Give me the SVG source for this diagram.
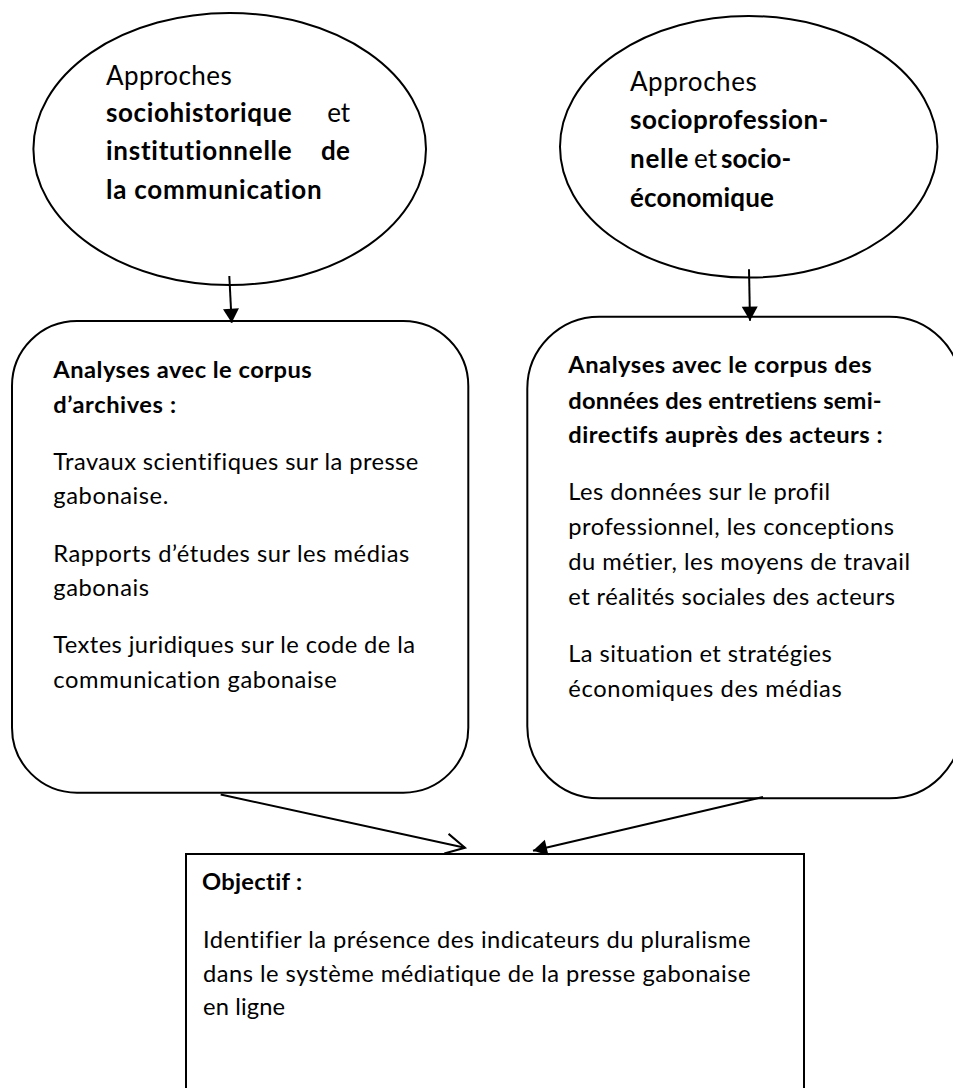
<svg xmlns="http://www.w3.org/2000/svg" width="953" height="1088" viewBox="0 0 953 1088">
<style>
.n{fill:#fff;stroke:#000;stroke-width:2}
text{font-family:Lato,"Open Sans","Liberation Sans",sans-serif;font-size:23.7px;fill:#000;font-variant-ligatures:none;font-feature-settings:"liga" 0,"clig" 0}
.e{font-size:26px}
.b{font-weight:bold}
.c{stroke:#000;stroke-width:2;fill:none}
</style>
<defs>
<marker id="tri" markerUnits="userSpaceOnUse" markerWidth="16" markerHeight="18" refX="14" refY="8" orient="auto" overflow="visible">
<path d="M0,0 L14,8 L0,16 Z" fill="#000"/>
</marker>
<marker id="open" markerUnits="userSpaceOnUse" markerWidth="22" markerHeight="22" refX="19" refY="10" orient="auto" overflow="visible">
<path d="M0,0 L19,10 L0,20" fill="none" stroke="#000" stroke-width="2"/>
</marker>
</defs>
<rect width="953" height="1088" fill="#fff"/>

<g id="ellipse-left">
<ellipse class="n" cx="229.7" cy="149" rx="196.3" ry="136"/>
<text class="e" x="106" y="85" textLength="125.7" lengthAdjust="spacing">Approches</text>
<text class="e b" x="106" y="121.7" textLength="185.7" lengthAdjust="spacing">sociohistorique</text>
<text class="e" x="327.3" y="121.7" textLength="22.7" lengthAdjust="spacing">et</text>
<text class="e b" x="106" y="160" textLength="185.7" lengthAdjust="spacing">institutionnelle</text>
<text class="e b" x="321" y="160" textLength="29" lengthAdjust="spacing">de</text>
<text class="e b" x="106" y="198.5" textLength="215.7" lengthAdjust="spacing">la communication</text>
</g>

<g id="ellipse-right">
<ellipse class="n" cx="748.7" cy="146.8" rx="188.7" ry="130.8"/>
<text class="e" x="630" y="90.7" textLength="126.7" lengthAdjust="spacing">Approches</text>
<text class="e b" x="630" y="129.3" textLength="198.3" lengthAdjust="spacing">socioprofession-</text>
<text class="e b" x="630" y="168.3" textLength="58.3" lengthAdjust="spacing">nelle</text>
<text class="e" x="694" y="168.3">et</text>
<text class="e b" x="721" y="168.3">socio-</text>
<text class="e b" x="630" y="206.7" textLength="144" lengthAdjust="spacing">économique</text>
</g>

<g id="box-archives">
<rect class="n" x="12" y="321" width="456.3" height="471.7" rx="65" ry="65"/>
<text class="b" x="53.3" y="378.3" textLength="258.4" lengthAdjust="spacing">Analyses avec le corpus</text>
<text class="b" x="53.3" y="412.7" textLength="122.7" lengthAdjust="spacing">d’archives :</text>
<text x="53.3" y="470" textLength="365" lengthAdjust="spacing">Travaux scientifiques sur la presse</text>
<text x="53.3" y="504.3" textLength="115" lengthAdjust="spacing">gabonaise.</text>
<text x="53.3" y="561.7" textLength="356" lengthAdjust="spacing">Rapports d’études sur les médias</text>
<text x="53.3" y="596" textLength="95.7" lengthAdjust="spacing">gabonais</text>
<text x="53.3" y="653.3" textLength="361.7" lengthAdjust="spacing">Textes juridiques sur le code de la</text>
<text x="53.3" y="687.7" textLength="283.4" lengthAdjust="spacing">communication gabonaise</text>
</g>

<g id="box-entretiens">
<rect class="n" x="527.3" y="316.7" width="434" height="481.6" rx="72" ry="72"/>
<text class="b" x="568.3" y="373.3" textLength="303.4" lengthAdjust="spacing">Analyses avec le corpus des</text>
<text class="b" x="568.3" y="409" textLength="313.4" lengthAdjust="spacing">données des entretiens semi-</text>
<text class="b" x="568.3" y="443.3" textLength="314.4" lengthAdjust="spacing">directifs auprès des acteurs :</text>
<text x="568.3" y="500" textLength="261.7" lengthAdjust="spacing">Les données sur le profil</text>
<text x="568.3" y="535" textLength="325.7" lengthAdjust="spacing">professionnel, les conceptions</text>
<text x="568.3" y="570" textLength="341.7" lengthAdjust="spacing">du métier, les moyens de travail</text>
<text x="568.3" y="605" textLength="326.7" lengthAdjust="spacing">et réalités sociales des acteurs</text>
<text x="568.3" y="661.7" textLength="263.4" lengthAdjust="spacing">La situation et stratégies</text>
<text x="568.3" y="696.7" textLength="273.4" lengthAdjust="spacing">économiques des médias</text>
</g>

<g id="box-objectif">
<rect class="n" x="186" y="854" width="618" height="240"/>
<text class="b" x="202" y="890" textLength="100" lengthAdjust="spacing">Objectif :</text>
<text x="203" y="948.3" textLength="547.5" lengthAdjust="spacing">Identifier la présence des indicateurs du pluralisme</text>
<text x="203" y="981.7" textLength="547.5" lengthAdjust="spacing">dans le système médiatique de la presse gabonaise</text>
<text x="203" y="1015" textLength="82" lengthAdjust="spacing">en ligne</text>
</g>

<g id="connectors">
<line class="c" x1="229.3" y1="276" x2="231.7" y2="322.7" marker-end="url(#tri)"/>
<line class="c" x1="749" y1="269.3" x2="750" y2="320.7" marker-end="url(#tri)"/>
<line class="c" x1="220.7" y1="794.5" x2="465" y2="847.7" marker-end="url(#open)"/>
<line class="c" x1="763" y1="797" x2="533" y2="850.7" marker-end="url(#tri)"/>
</g>
</svg>
